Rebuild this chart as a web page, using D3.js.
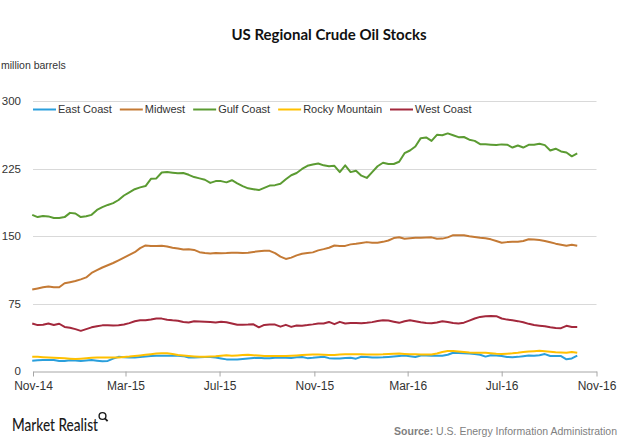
<!DOCTYPE html>
<html>
<head>
<meta charset="utf-8">
<script src="https://cdn.jsdelivr.net/npm/d3@7"></script>
<style>
  html, body { margin: 0; padding: 0; background: #ffffff; }
  svg { display: block; }
</style>
</head>
<body>
<div id="chart"></div>
<script>
// ---------- DATA ----------
const seriesNames = ["East Coast", "Midwest", "Gulf Coast", "Rocky Mountain", "West Coast"];
const firstWeek = "2014-10-31"; // weekly observations
const xTickLabels = ["2014-11-01", "2015-03-01", "2015-07-01", "2015-11-01", "2016-03-01", "2016-07-01", "2016-11-01"];
const yTicks = [0, 75, 150, 225, 300];

const eastCoast = [11.4,11.9,12.2,12.2,12.2,11.1,11.2,12,11.8,11.2,
  11.6,12.1,11.4,10.8,11.2,13.7,15.7,15.2,15.1,15.1,
  15.6,16.2,16.7,17,17,17,17,17,16.5,15.1,
  15.1,15.2,15.6,15.6,15,14,12.9,12.9,12.9,13.4,
  14,14.4,14.8,14.3,14.1,14.6,15.1,14.8,14.4,15.4,
  15.5,14.3,14.6,15.2,15.8,14.3,14,14,14.5,14.8,
  13.7,15.8,15.5,15.1,15.1,15.2,15.6,16.1,16.7,17.1,
  16.4,15.6,17.3,17.1,17,17,17,18,20.3,20,
  19.7,19.4,18.8,18,16,17.6,17.3,16.6,15.6,15.3,
  15.7,16.4,17.1,16.9,17.6,18.8,16.6,16.6,16.6,13,
  14,17];
const midwest = [90.5,91.7,93,94,93,93,97.5,98.7,100,101.8,
  104,109,112,115,117.5,120,123,126,129,132,
  136.5,139.5,139,139,139.2,138.4,137,136,135,135.2,
  134.5,132,131,130.6,131.1,130.8,131,131.4,131.5,131.2,
  131.4,132.3,133,133.7,133.5,131,127,124.5,126,128.5,
  130.3,131,131.8,134,135.4,137,139.4,139,139,140.7,
  141.4,142.3,143.2,142.5,142.5,143.5,145,147.7,148.7,147,
  147.6,148,148,148.2,148.5,147,147.1,148.5,150.9,150.9,
  150.9,149.8,148.9,148,147.5,146.3,144.4,142.5,143.2,143.5,
  143.5,144.5,146.4,146,145.5,144.5,143,141.5,140.3,139.2,
  140.2,139.2];
const gulfCoast = [173.5,171,172.3,171.8,170,170,171,175.7,175,171,
  172,173.5,179,182,184.5,186.5,190,195,198.5,202,
  204,205.5,213.5,214,220.5,221,220.3,219.6,220,218,
  215.5,214,212.5,209,211,211,209.6,212,208.5,205.5,
  203,202,201,203.5,206,206.5,208,213,217.5,220,
  224.5,228,229.5,230.6,228.5,227.5,228,221,228.5,221,
  222.5,217,214.5,221,227.5,231.4,230,230,232.5,242,
  245,249.5,258.7,259.5,255.7,262.4,262,264,262,259.8,
  260,257,255.7,252,252,251.5,251,251.8,251.5,248.3,
  250.6,248.3,251.3,251.5,252.5,251,245,247,244,242.8,
  238.5,241.7];
const rockyMountain = [15.9,15.7,15.4,15.1,14.8,14.5,14.1,13.7,13.3,13.7,
  14.1,14.6,14.9,15,15.1,15.1,15.1,15.6,16,16.6,
  17.3,18,18.7,19.4,19.6,19.6,18.8,17.7,17.1,16.6,
  16.2,15.9,15.9,16.1,16.4,16.9,17.5,17,17.3,17.7,
  18,17.5,17.1,16.6,16.6,16.6,16.6,16.8,17,17.3,
  17.7,18,18.3,18.3,18,17.8,17.9,18.2,18.6,18.7,
  18.6,18.5,18.4,18.4,18.4,18.5,18.9,19.3,19.4,19,
  18.7,18.5,18.4,18.4,18.4,19.5,21.2,22.2,22.2,21.6,
  21,20.5,20.3,20.3,20.3,19.8,19.2,18.9,19.2,19.6,
  20.2,21,21.6,22,22.5,22,21.5,20.9,20.6,20.3,
  21.2,20.3];
const westCoast = [52.8,51,51.3,52.7,51.2,52.5,49,48,46.5,44.6,
  46.5,48.5,49.8,50.7,50.8,50.5,50.8,51.7,53.2,55.3,
  56.5,56.5,57.3,58.3,58.2,57,56.3,55.8,54.4,54,
  55.3,55,54.7,54.4,53.8,54.6,54.2,52.7,51.3,51.5,
  51.6,51.9,48.5,51.2,51.6,51.6,49.3,51.3,49,50.6,
  50.4,51,51.8,52.8,52.8,54.5,52,54.6,52.8,53.3,
  53.2,53,53.5,54.3,55.5,56.4,56,54.7,53.5,55.3,
  56.5,55.3,54.2,53.4,53,54,55.2,54.4,53.4,52.8,
  53.7,56,58.3,60.1,60.8,61.2,60.9,58.3,57.1,56.3,
  55.4,54.2,52.4,51.1,50.4,49.8,48.6,47.8,47.6,50.2,
  49,49];
const seriesColors = ["#2a9fdc", "#c47a35", "#5b9b32", "#ffc000", "#a3283c"];

// ---------- CHART ----------
const W = 620, H = 444;
const margin = { left: 33, right: 23, top: 101, bottom: 73 };
const parse = d3.timeParse("%Y-%m-%d");
const start = parse(firstWeek);
const dates = gulfCoast.map((_, i) => d3.timeDay.offset(start, 7 * i));
const allValues = [eastCoast, midwest, gulfCoast, rockyMountain, westCoast];

const svg = d3.select("#chart").append("svg").attr("width", W).attr("height", H)
  .style("font-family", "'Liberation Sans', Arial, sans-serif");

const x = d3.scaleTime()
  .domain([parse(xTickLabels[0]), parse(xTickLabels[xTickLabels.length - 1])])
  .range([margin.left, W - margin.right - 0.5]);
const y = d3.scaleLinear().domain([0, 300]).range([H - margin.bottom, margin.top]);

// Title
svg.append("text").attr("x", 329).attr("y", 40).attr("text-anchor", "middle")
  .style("font-family", "Lato, 'Open Sans', sans-serif").style("font-weight", "bold")
  .style("font-size", "15px").attr("fill", "#111")
  .text("US Regional Crude Oil Stocks");

// Unit label
svg.append("text").attr("x", 1).attr("y", 69)
  .style("font-size", "10.5px").attr("fill", "#333").text("million barrels");

// Gridlines
svg.append("g").selectAll("line").data(yTicks.filter(t => t > 0)).join("line")
  .attr("x1", x.range()[0]).attr("x2", x.range()[1])
  .attr("y1", d => Math.round(y(d)) + 0.5).attr("y2", d => Math.round(y(d)) + 0.5)
  .attr("stroke", "#d9d9d9").attr("stroke-width", 1);

// Y axis labels
const yAxis = svg.append("g").attr("transform", `translate(${margin.left - 12},0)`)
  .call(d3.axisLeft(y).tickValues(yTicks).tickSize(0).tickPadding(0));
yAxis.select(".domain").remove();
yAxis.selectAll("text").style("font-size", "11.5px").attr("fill", "#333")
  .style("font-family", "'Liberation Sans', Arial, sans-serif");

// X axis
const xAxis = svg.append("g").attr("transform", `translate(0,${Math.round(y(0)) + 0.5})`)
  .call(d3.axisBottom(x).tickValues(xTickLabels.map(parse))
    .tickFormat(d3.timeFormat("%b-%y")).tickSize(5).tickSizeOuter(0).tickPadding(5));
xAxis.select(".domain").attr("stroke", "#a6a6a6");
xAxis.selectAll(".tick line").attr("stroke", "#a6a6a6");
xAxis.selectAll("text").style("font-size", "12px").attr("fill", "#333")
  .style("font-family", "'Liberation Sans', Arial, sans-serif");

// Lines
const line = d3.line().x((d, i) => x(dates[i])).y(d => y(d));
svg.append("g").selectAll("path").data(allValues).join("path")
  .attr("d", d => line(d)).attr("fill", "none")
  .attr("stroke", (d, i) => seriesColors[i]).attr("stroke-width", 2)
  .attr("stroke-linejoin", "round");

// Legend
const legend = svg.append("g").attr("transform", "translate(33,109)");
let lx = 0;
seriesNames.forEach((name, i) => {
  const g = legend.append("g").attr("transform", `translate(${lx},0)`);
  g.append("line").attr("x1", 0).attr("x2", 23).attr("y1", 0.5).attr("y2", 0.5)
    .attr("stroke", seriesColors[i]).attr("stroke-width", 2);
  const t = g.append("text").attr("x", 25).attr("y", 4).style("font-size", "11px")
    .attr("fill", "#333").text(name);
  lx += 25 + t.node().getComputedTextLength() + 8;
});

// Footer: Market Realist
const brand = svg.append("g");
brand.append("text").attr("x", 12).attr("y", 431)
  .style("font-family", "Lato, 'Open Sans', sans-serif").style("font-size", "17px")
  .style("font-weight", "500")
  .attr("textLength", 86).attr("lengthAdjust", "spacingAndGlyphs")
  .attr("fill", "#1a1a1a").text("Market Realist");
brand.append("circle").attr("cx", 102.5).attr("cy", 416) .attr("r", 3.4)
  .attr("fill", "none").attr("stroke", "#1a1a1a").attr("stroke-width", 1.4);
brand.append("line").attr("x1", 104.9).attr("y1", 418.4).attr("x2", 107.6).attr("y2", 421.1)
  .attr("stroke", "#1a1a1a").attr("stroke-width", 1.8);

// Source
const src = svg.append("text").attr("x", 617).attr("y", 435).attr("text-anchor", "end")
  .style("font-size", "10.5px").attr("fill", "#808080");
src.append("tspan").style("font-weight", "bold").text("Source:");
src.append("tspan").text(" U.S. Energy Information Administration");
</script>
</body>
</html>
